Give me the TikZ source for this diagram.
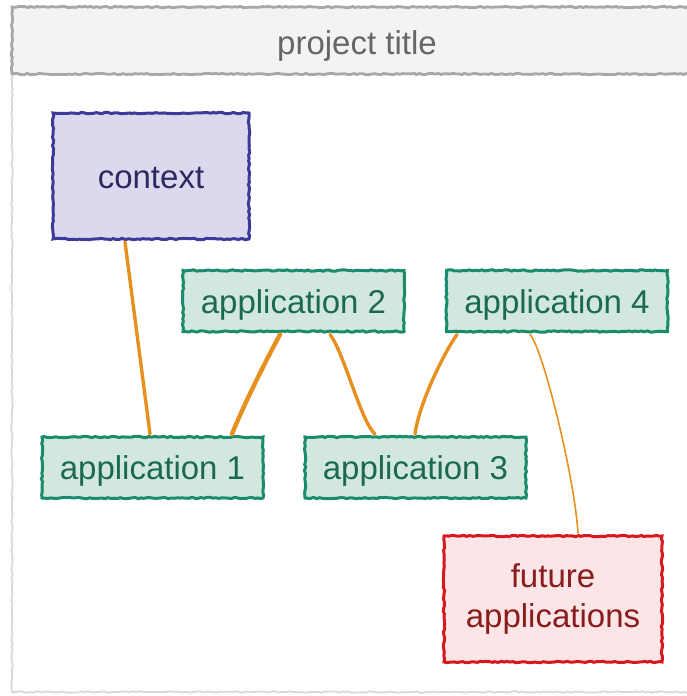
\documentclass[tikz,border=0pt]{standalone}
\usepackage{fontspec}
\setmainfont{Liberation Sans}
\usetikzlibrary{calc,decorations.pathmorphing}
\definecolor{titlefill}{HTML}{F3F3F3}
\definecolor{titledraw}{HTML}{A8A8A8}
\definecolor{titletext}{HTML}{666666}
\definecolor{ctxfill}{HTML}{DCD9EE}
\definecolor{ctxdraw}{HTML}{3E3A9A}
\definecolor{ctxtext}{HTML}{2B2960}
\definecolor{appfill}{HTML}{D2E8DF}
\definecolor{appdraw}{HTML}{1A8C6C}
\definecolor{apptext}{HTML}{1B6A50}
\definecolor{futfill}{HTML}{FBE5E7}
\definecolor{futdraw}{HTML}{D7191F}
\definecolor{futtext}{HTML}{8A1C1C}
\definecolor{linkcol}{HTML}{E8901F}
\tikzset{
  rough/.style={decorate, decoration={random steps, segment length=3pt, amplitude=0.7pt}},
  box/.style={rectangle, rough, line width=3pt, inner sep=0pt, align=center,
    font=\fontsize{33}{40}\selectfont},
  oneline/.style={text height=24pt, text depth=0pt},
  ctxbox/.style={box, oneline, fill=ctxfill, draw=ctxdraw, text=ctxtext, minimum width=196pt, minimum height=126pt},
  appbox/.style={box, oneline, fill=appfill, draw=appdraw, text=apptext, minimum width=221pt, minimum height=61pt},
  futbox/.style={box, fill=futfill, draw=futdraw, text=futtext, minimum width=218pt, minimum height=126pt},
  link/.style={draw=linkcol, line width=3.4pt, line cap=round},
  thinlink/.style={draw=linkcol, line width=1.6pt, line cap=round},
}
\begin{document}
\begin{tikzpicture}[x=1pt,y=-1pt]
\useasboundingbox (0,0) rectangle (687,696);
\begin{scope}
\clip (0,0) rectangle (687,696);
\draw[titledraw!45, line width=1.8pt, rough] (12,74) -- (12,692) -- (700,692);
\draw[rough, fill=titlefill, draw=titledraw, line width=2.8pt] (12,7) rectangle (700,74);
\end{scope}
\node[text=titletext, font=\fontsize{33}{40}\selectfont, oneline, inner sep=0pt] (title) at (357,42) {project title};

\node[ctxbox] (ctx) at (151,176) {context};
\node[appbox] (app2) at (293.5,301) {application 2};
\node[appbox] (app4) at (557,301) {application 4};
\node[appbox] (app1) at (152.5,467.5) {application 1};
\node[appbox] (app3) at (415.5,467.5) {application 3};
\node[futbox] (fut) at (553,599) {future\\applications};

\draw[link] ($(ctx.south)+(-26,1.5)$) -- ($(app1.north)+(-2.5,-1.5)$);
\draw[link, line width=4.4pt] ($(app2.south)+(-13.5,1.5)$) .. controls +(-12,22) and +(12,-30) .. ($(app1.north)+(79.5,-1.5)$);
\draw[link] ($(app2.south)+(36.5,1.5)$) .. controls +(14,18) and +(-14,-12) .. ($(app3.north)+(-40.5,-1.5)$);
\draw[link] ($(app4.south)+(-100,1.5)$) .. controls +(-14,20) and +(4,-30) .. ($(app3.north)+(-0.5,-1.5)$);
\draw[thinlink] ($(app4.south)+(-27,1.5)$) .. controls +(12,12) and +(-4,-60) .. ($(fut.north)+(25,-1.5)$);
\end{tikzpicture}
\end{document}
